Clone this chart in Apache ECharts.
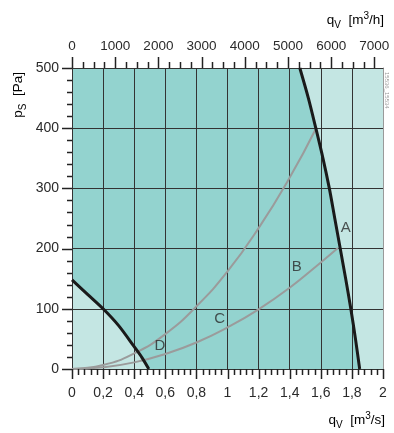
<!DOCTYPE html>
<html><head><meta charset="utf-8">
<script src="https://cdn.jsdelivr.net/npm/echarts@6/dist/echarts.min.js"></script>
<style>html,body{margin:0;padding:0;background:#fff}#c{width:394px;height:433px}</style>
</head><body><div id="c"></div>
<script>
// ---- data ----
const qBottomTicks = [0, 0.2, 0.4, 0.6, 0.8, 1, 1.2, 1.4, 1.6, 1.8, 2];   // m3/s
const qBottomMinorPerStep = 5;
const qTopTicks = [0, 1000, 2000, 3000, 4000, 5000, 6000, 7000];           // m3/h
const qTopMinorTicks = [250, 500, 750, 1250, 1500, 1750, 2250, 2500, 2750, 3250, 3500, 3750,
  4250, 4500, 4750, 5250, 5500, 5750, 6250, 6500, 6750];
const qTopMax = 7200;       // 2 m3/s = 7200 m3/h
const pTicks = [0, 100, 200, 300, 400, 500];
const pMinorPerStep = 5;

const curveA_q = [1.465, 1.52, 1.568, 1.614, 1.655, 1.69, 1.725, 1.76, 1.793, 1.823, 1.85];
const curveA_p = [500, 450, 400, 350, 300, 250, 200, 150, 100, 50, 0];
const curveD_q = [0, 0.1, 0.2, 0.3, 0.4, 0.45, 0.494];
const curveD_p = [148, 124, 100, 72, 37, 19, 0];
const curveB_q = [0, 0.2, 0.4, 0.6, 0.8, 1.0, 1.2, 1.4, 1.6, 1.71];
const curveB_p = [0, 2.8, 11, 25, 44, 69, 99, 135, 177, 201];
const curveC_q = [0, 0.2, 0.4, 0.6, 0.8, 1.0, 1.2, 1.4, 1.57];
const curveC_p = [0, 6.5, 26, 58, 104, 162, 234, 318, 400];

const labelNames = ['A', 'B', 'C', 'D'];
const labelQ = [1.76, 1.445, 0.95, 0.565];
const labelP = [235, 169, 84, 39];

// ---- build ----
const zip = (a, b) => a.map((v, i) => [v, b[i]]);
const DARK = '#93d3cf', LIGHT = '#c4e6e3', INK = '#2a2a2a', GRID = '#333';
const FONT = 'Liberation Sans';
const qMin = qBottomTicks[0], qMax = qBottomTicks[qBottomTicks.length - 1];
const pMin = pTicks[0], pMax = pTicks[pTicks.length - 1];
const M3H_PER_M3S = 3600;

const chart = echarts.init(document.getElementById('c'), null, {renderer: 'canvas'});
const richName = {
  m: {fontSize: 13.5, fontFamily: FONT, color: INK},
  sub: {fontSize: 10, fontFamily: FONT, color: INK, padding: [10, 0, 0, 0]},
  sup: {fontSize: 10, fontFamily: FONT, color: INK, padding: [0, 0, 9, 0]}
};

// axis ticks drawn through the chart's own coordinate system
function renderTicks(params, api) {
  const ch = [];
  const seg = (x1, y1, x2, y2) => ch.push({type: 'line',
    shape: {x1: x1, y1: y1, x2: x2, y2: y2}, style: {stroke: '#222', lineWidth: 1.5}});
  const vt = (q, p, len) => {
    const c = api.coord([q, p]); const x = Math.round(c[0]) + 0.5; const y = Math.round(c[1]);
    seg(x, y, x, y + len);
  };
  const ht = (q, p, len) => {
    const c = api.coord([q, p]); const y = Math.round(c[1]) + 0.5; const x = Math.round(c[0]);
    seg(x, y, x - len, y);
  };
  qBottomTicks.forEach((q, i) => {
    vt(q, pMin, 10);
    if (i < qBottomTicks.length - 1) {
      const step = (qBottomTicks[i + 1] - q) / qBottomMinorPerStep;
      for (let k = 1; k < qBottomMinorPerStep; k++) vt(q + k * step, pMin, 6);
    }
  });
  qTopTicks.forEach(v => vt(v / M3H_PER_M3S, pMax, -11));
  qTopMinorTicks.forEach(v => vt(v / M3H_PER_M3S, pMax, -6));
  pTicks.forEach((p, i) => {
    ht(qMin, p, 10);
    if (i < pTicks.length - 1) {
      const step = (pTicks[i + 1] - p) / pMinorPerStep;
      for (let k = 1; k < pMinorPerStep; k++) ht(qMin, p + k * step, 5);
    }
  });
  return {type: 'group', children: ch};
}

chart.setOption({
  animation: false,
  grid: {left: 72, right: 11, top: 68, bottom: 64},
  xAxis: [
    {type: 'value', position: 'bottom', min: qMin, max: qMax, interval: 0.2,
     axisLine: {onZero: false, lineStyle: {color: GRID, width: 1}},
     axisTick: {show: false}, minorTick: {show: false},
     splitLine: {show: true, lineStyle: {color: GRID, width: 1}},
     axisLabel: {margin: 17, fontSize: 14, fontFamily: FONT, color: INK,
       formatter: v => String(+(+v).toFixed(1)).replace('.', ',')}},
    {type: 'value', position: 'top', min: 0, max: qTopMax,
     axisLine: {show: true, onZero: false, lineStyle: {color: GRID, width: 1}},
     axisTick: {show: false},
     splitLine: {show: false},
     axisLabel: {margin: 15, fontSize: 13.5, fontFamily: FONT, color: INK,
       customValues: qTopTicks, formatter: v => String(v)}}
  ],
  yAxis: [
    {type: 'value', min: pMin, max: pMax, interval: 100,
     axisLine: {show: true, onZero: false, lineStyle: {color: GRID, width: 1}},
     axisTick: {show: false}, minorTick: {show: false},
     splitLine: {show: true, lineStyle: {color: GRID, width: 1}},
     axisLabel: {margin: 13, fontSize: 14, fontFamily: FONT, color: INK}},
    {type: 'value', position: 'right', min: pMin, max: pMax,
     axisLine: {show: true, onZero: false, lineStyle: {color: '#9a9a9a', width: 1}},
     axisTick: {show: false}, axisLabel: {show: false}, splitLine: {show: false}}
  ],
  series: [
    {type: 'custom', z: -1, silent: true, clip: true, data: [[0, 0]],
     renderItem: (params, api) => {
       const bg = [[qMin, pMin], [qMax, pMin], [qMax, pMax], [qMin, pMax]];
       const pts = zip(curveD_q, curveD_p)
         .concat(zip(curveA_q, curveA_p).reverse())
         .concat([[qMin, pMax]]);
       return {type: 'group', children: [
         {type: 'polygon', shape: {points: bg.map(p => api.coord(p))}, style: {fill: LIGHT}},
         {type: 'polygon', shape: {points: pts.map(p => api.coord(p))}, style: {fill: DARK}}
       ]};
     }},
    {type: 'line', z: 3, data: zip(curveC_q, curveC_p), smooth: true, showSymbol: false,
     lineStyle: {color: '#9b9b9b', width: 2}},
    {type: 'line', z: 3, data: zip(curveB_q, curveB_p), smooth: true, showSymbol: false,
     lineStyle: {color: '#9b9b9b', width: 2}},
    {type: 'line', z: 4, data: zip(curveA_q, curveA_p), smooth: 0.3, showSymbol: false,
     lineStyle: {color: '#1a1a1a', width: 3}},
    {type: 'line', z: 4, data: zip(curveD_q, curveD_p), smooth: 0.3, showSymbol: false,
     lineStyle: {color: '#1a1a1a', width: 3}},
    {type: 'scatter', z: 5, symbolSize: 0, silent: true,
     data: labelNames.map((n, i) => ({name: n, value: [labelQ[i], labelP[i]]})),
     label: {show: true, position: 'inside', formatter: '{b}', fontSize: 15,
       fontFamily: FONT, color: INK}},
    {type: 'custom', z: 5, silent: true, clip: false, data: [[0, 0]], renderItem: renderTicks}
  ],
  graphic: [
    {type: 'text', right: 10, top: 11, style: {
      text: '{m|q}{sub|V}{m|  [m}{sup|3}{m|/h]}', rich: richName}},
    {type: 'text', right: 9, top: 411, style: {
      text: '{m|q}{sub|V}{m|  [m}{sup|3}{m|/s]}', rich: richName}},
    {type: 'text', left: 11, top: 72, rotation: Math.PI / 2, style: {
      text: '{m|p}{sub|S}{m|  [Pa]}', rich: richName}},
    {type: 'text', left: 384, top: 72, rotation: -Math.PI / 2, style: {
      text: '15536_15534', fontSize: 6, fontFamily: FONT, fill: '#9a9a9a'}}
  ]
});
</script></body></html>
